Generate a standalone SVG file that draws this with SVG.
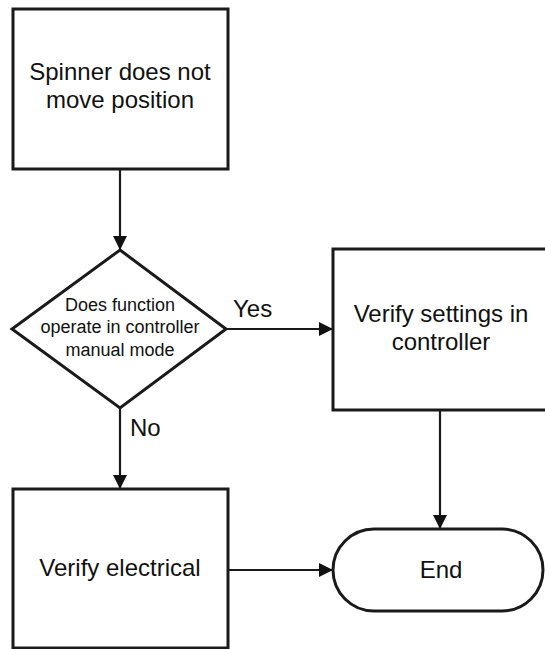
<svg xmlns="http://www.w3.org/2000/svg" width="545" height="649" viewBox="0 0 545 649">
<defs>
<style>
.shape{fill:#fff;stroke:#1a1a1a;stroke-width:3}
.conn{fill:none;stroke:#1a1a1a;stroke-width:2.2}
.t{font-family:"Liberation Sans",Arial,sans-serif;font-size:24px;fill:#111;text-anchor:middle}
.ts{font-family:"Liberation Sans",Arial,sans-serif;font-size:18px;fill:#111;text-anchor:middle}
.lbl{font-family:"Liberation Sans",Arial,sans-serif;font-size:24px;fill:#111}
</style>
<marker id="arr" markerWidth="14" markerHeight="14" refX="13" refY="7" orient="auto" markerUnits="userSpaceOnUse">
<path d="M0,0 L14,7 L0,14 Z" fill="#111"/>
</marker>
</defs>
<rect width="545" height="649" fill="#fff"/>
<g id="connectors">
<line class="conn" x1="120" y1="169" x2="120" y2="249" marker-end="url(#arr)"/>
<line class="conn" x1="226" y1="329" x2="332" y2="329" marker-end="url(#arr)"/>
<line class="conn" x1="120" y1="408" x2="120" y2="488" marker-end="url(#arr)"/>
<line class="conn" x1="440" y1="410" x2="440" y2="528" marker-end="url(#arr)"/>
<line class="conn" x1="228" y1="570" x2="332" y2="570" marker-end="url(#arr)"/>
<text class="lbl" x="233" y="317">Yes</text>
<text class="lbl" x="130" y="436">No</text>
</g>
<g id="start">
<rect class="shape" x="13" y="9" width="215" height="160"/>
<text class="t" x="120" y="80">Spinner does not</text>
<text class="t" x="120" y="108">move position</text>
</g>
<g id="decision">
<polygon class="shape" points="120,250 226,329 120,408 12,329"/>
<text class="ts" x="120" y="311">Does function</text>
<text class="ts" x="120" y="333">operate in controller</text>
<text class="ts" x="120" y="356">manual mode</text>
</g>
<g id="verify-settings">
<rect class="shape" x="333" y="249" width="216" height="161"/>
<text class="t" x="441" y="322">Verify settings in</text>
<text class="t" x="441" y="350">controller</text>
</g>
<g id="verify-electrical">
<rect class="shape" x="13" y="489" width="215" height="159"/>
<text class="t" x="120" y="576">Verify electrical</text>
</g>
<g id="end">
<rect class="shape" x="333" y="529" width="210" height="82" rx="41" ry="41"/>
<text class="t" x="441" y="578">End</text>
</g>
</svg>
